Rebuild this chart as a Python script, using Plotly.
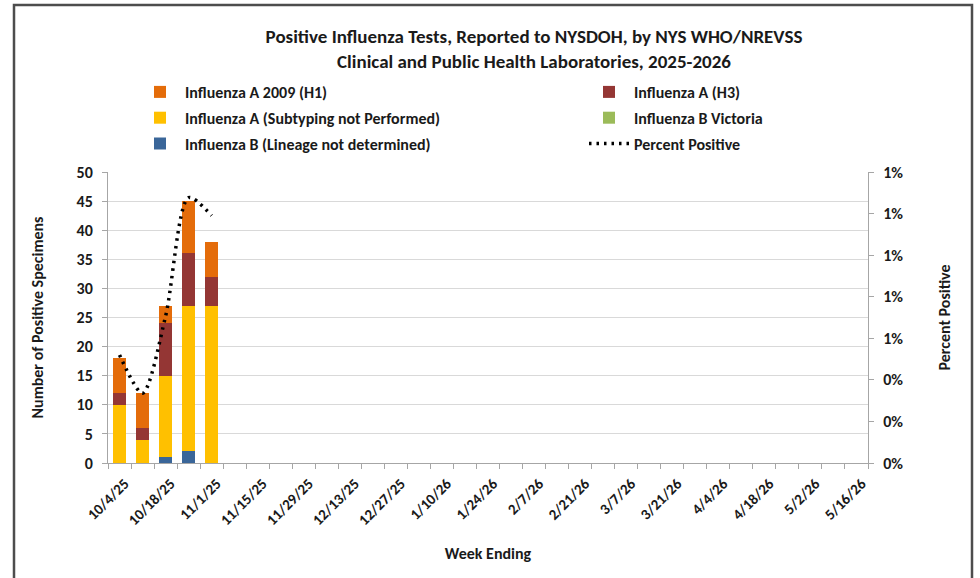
import plotly.graph_objects as go

# ---------------- data ----------------
weeks = ["10/4/25", "10/11/25", "10/18/25", "10/25/25", "11/1/25", "11/8/25",
         "11/15/25", "11/22/25", "11/29/25", "12/6/25", "12/13/25", "12/20/25",
         "12/27/25", "1/3/26", "1/10/26", "1/17/26", "1/24/26", "1/31/26",
         "2/7/26", "2/14/26", "2/21/26", "2/28/26", "3/7/26", "3/14/26",
         "3/21/26", "3/28/26", "4/4/26", "4/11/26", "4/18/26", "4/25/26",
         "5/2/26", "5/9/26", "5/16/26"]

flu_b_lineage = [0, 0, 1, 2, 0]
flu_b_victoria = [0, 0, 0, 0, 0]
flu_a_unsubtyped = [10, 4, 14, 25, 27]
flu_a_h3 = [2, 2, 9, 9, 5]
flu_a_h1 = [6, 6, 3, 9, 6]
percent_positive = [0.0052, 0.00336, 0.00706, 0.01277, 0.0119]

tick_labels = [w if i % 2 == 0 else "" for i, w in enumerate(weeks)]

def pad(vals):
    return list(vals) + [None] * (len(weeks) - len(vals))

FONT = "Carlito, Calibri, Lato, sans-serif"
TXT = "#1a1a1a"

fig = go.Figure()

series = [
    ("Influenza B (Lineage not determined)", flu_b_lineage, "#3A6699", "legend", 3),
    ("Influenza B Victoria", flu_b_victoria, "#9BBB59", "legend2", 2),
    ("Influenza A (Subtyping not Performed)", flu_a_unsubtyped, "#FFC000", "legend", 2),
    ("Influenza A (H3)", flu_a_h3, "#943634", "legend2", 1),
    ("Influenza A 2009 (H1)", flu_a_h1, "#E46C0A", "legend", 1),
]
for name, vals, color, leg, rank in series:
    fig.add_trace(go.Bar(
        x=weeks, y=pad(vals), name=name, marker=dict(color=color, line=dict(width=0)),
        legend=leg, legendrank=rank, legendgroup=name,
    ))

fig.add_trace(go.Scatter(
    x=weeks, y=pad(percent_positive), name="Percent Positive", yaxis="y2",
    mode="lines", line=dict(color="black", width=3.5, dash="2.5px,5px", shape="spline", smoothing=0.8),
    legend="legend2", legendrank=3, legendgroup="pp",
))

fig.update_layout(
    width=980, height=578,
    margin=dict(l=108, r=112, t=172, b=115),
    paper_bgcolor="white", plot_bgcolor="white",
    barmode="stack", bargap=0.42,
    font=dict(family=FONT, color=TXT, size=15),
    title=dict(
        text="<b>Positive Influenza Tests, Reported to NYSDOH, by NYS WHO/NREVSS<br>Clinical and Public Health Laboratories, 2025-2026</b>",
        x=534 / 980, xanchor="center", y=1 - 43 / 578, yanchor="middle", yref="container",
        font=dict(family=FONT, size=19, color=TXT),
    ),
    xaxis=dict(
        type="category", categoryorder="array", categoryarray=weeks,
        tickvals=weeks, ticktext=tick_labels, tickangle=-45,
        tickson="boundaries", ticks="outside", ticklen=5, tickcolor="#A6A6A6",
        ticklabelstandoff=5, ticklabelshift=5,
        showline=True, linecolor="#A6A6A6", linewidth=1, showgrid=False,
        tickfont=dict(family=FONT, size=15, color=TXT, weight="bold"),
        title=dict(text="<b>Week Ending</b>", font=dict(family=FONT, size=16, color=TXT), standoff=19),
        range=[-0.5, len(weeks) - 0.5],
    ),
    yaxis=dict(
        range=[0, 50], dtick=5, showgrid=True, gridcolor="#D9D9D9", gridwidth=1,
        showline=True, linecolor="#A6A6A6", ticks="outside", ticklen=5, tickcolor="#A6A6A6",
        ticklabelstandoff=6,
        tickfont=dict(family=FONT, size=16, color=TXT, weight="bold"),
        title=dict(text="<b>Number of Positive Specimens</b>", font=dict(family=FONT, size=16, color=TXT), standoff=28),
        zeroline=False,
    ),
    yaxis2=dict(
        overlaying="y", side="right", range=[0, 0.014], dtick=0.002, tickformat=".0%",
        showgrid=False, showline=True, linecolor="#A6A6A6", ticks="outside", ticklen=5,
        tickcolor="#A6A6A6", zeroline=False, ticklabelstandoff=6,
        tickfont=dict(family=FONT, size=16, color=TXT, weight="bold"),
        title=dict(text="<b>Percent Positive</b>", font=dict(family=FONT, size=16, color=TXT), standoff=36),
    ),
    legend=dict(
        orientation="v", x=(135 - 108) / 760, xanchor="left", y=(463 - 75) / 291, yanchor="top",
        traceorder="grouped", tracegroupgap=2, itemwidth=40,
        font=dict(family=FONT, size=16, color=TXT, weight="bold"), bgcolor="rgba(0,0,0,0)",
    ),
    legend2=dict(
        orientation="v", x=(584 - 108) / 760, xanchor="left", y=(463 - 75) / 291, yanchor="top",
        traceorder="grouped", tracegroupgap=2, itemwidth=40,
        font=dict(family=FONT, size=16, color=TXT, weight="bold"), bgcolor="rgba(0,0,0,0)",
    ),
    showlegend=True,
)

# chart-area border
fig.add_shape(type="rect", xref="paper", yref="paper",
              x0=(14 - 108) / 760, x1=(972 - 108) / 760,
              y0=(463 - 600) / 291, y1=(463 - 5) / 291,
              line=dict(color="#4d4d4d", width=2.5), fillcolor="rgba(0,0,0,0)", layer="below")

fig.write_html("out.html", config={"displayModeBar": False},
               post_script="document.body.style.margin='0';document.body.style.overflow='hidden';")
